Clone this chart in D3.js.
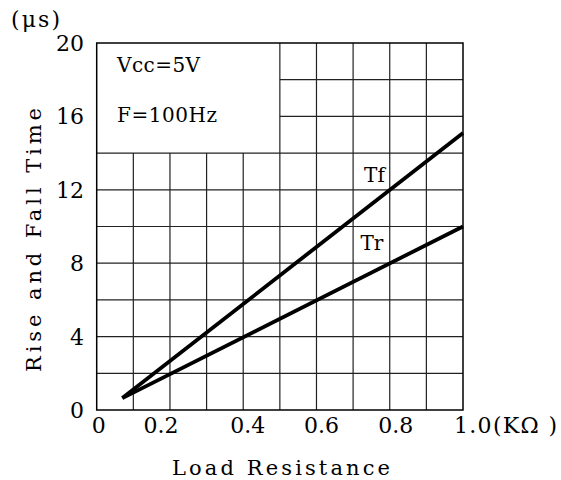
<!DOCTYPE html>
<html><head><meta charset="utf-8">
<script src="https://cdn.jsdelivr.net/npm/d3@7"></script>
<style>body{margin:0;background:#fff}svg{display:block}</style>
</head><body>
<svg id="c" width="561" height="480"></svg>
<script>
// ---- data ----
const xTicks = [0, 0.2, 0.4, 0.6, 0.8, 1.0];
const xTickLabels = ["0", "0.2", "0.4", "0.6", "0.8", "1.0(KΩ )"];
const yTicks = [0, 4, 8, 12, 16, 20];
const yTickLabels = ["0", "4", "8", "12", "16", "20"];
const tfSeries = [{x: 0.07, y: 0.65}, {x: 1.0, y: 15.1}];
const trSeries = [{x: 0.07, y: 0.65}, {x: 1.0, y: 10.0}];
const seriesNames = ["Tf", "Tr"];
const noteLines = ["Vcc=5V", "F=100Hz"];
const xTitle = "Load Resistance";
const yTitle = "Rise and Fall Time";
const yUnit = "(μs)";

// ---- layout ----
const W = 561, H = 480;
const x = d3.scaleLinear().domain([0, 1]).range([96.7, 463]);
const y = d3.scaleLinear().domain([0, 20]).range([410, 43]);
const FONT = "'DejaVu Serif', 'Liberation Serif', serif";
const svg = d3.select("#c");
svg.append("rect").attr("width", W).attr("height", H).attr("fill", "#fff");

const grid = svg.append("g").attr("stroke", "#222").attr("stroke-width", 1.2);
// vertical grid lines
d3.range(1, 10).map(i => i / 10).forEach(v => {
  grid.append("line")
    .attr("x1", x(v)).attr("x2", x(v))
    .attr("y1", y(0)).attr("y2", v < 0.5 ? y(14) : y(20));
});
// horizontal grid lines
d3.range(2, 20, 2).forEach(v => {
  grid.append("line")
    .attr("y1", y(v)).attr("y2", y(v))
    .attr("x1", v <= 14 ? x(0) : x(0.5)).attr("x2", x(1));
});
// frame
svg.append("rect")
  .attr("x", x(0)).attr("y", y(20))
  .attr("width", x(1) - x(0)).attr("height", y(0) - y(20))
  .attr("fill", "none").attr("stroke", "#000").attr("stroke-width", 1.5);

// series lines
const line = d3.line().x(d => x(d.x)).y(d => y(d.y));
[tfSeries, trSeries].forEach(s => {
  svg.append("path").datum(s).attr("d", line)
    .attr("fill", "none").attr("stroke", "#000").attr("stroke-width", 3.8)
    .attr("stroke-linecap", "butt");
});

// series labels
const seriesLabelPos = [{x: 0.73, y: 12.4}, {x: 0.72, y: 8.7}];
seriesNames.forEach((n, i) => {
  svg.append("text").attr("x", x(seriesLabelPos[i].x)).attr("y", y(seriesLabelPos[i].y))
    .attr("font-family", FONT).attr("font-size", 20).attr("fill", "#000")
    .text(n);
});

// notes
noteLines.forEach((t, i) => {
  svg.append("text").attr("x", 117).attr("y", 72 + i * 50)
    .attr("font-family", FONT).attr("font-size", 20).attr("fill", "#000")
    .attr("textLength", i === 0 ? 83 : 100).attr("lengthAdjust", "spacing")
    .text(t);
});

// y tick labels
yTicks.forEach((v, i) => {
  const lab = yTickLabels[i];
  svg.append("text").attr("x", 84).attr("y", y(v) + 8)
    .attr("text-anchor", "end")
    .attr("font-family", FONT).attr("font-size", 22).attr("fill", "#000")
    .text(lab);
});

// x tick labels
const xNudge = [2, -9, 4.5, 5, 6, 0];
xTicks.forEach((v, i) => {
  const lab = xTickLabels[i];
  const t = svg.append("text").attr("y", 433)
    .attr("font-family", FONT).attr("font-size", 22).attr("fill", "#000")
    .text(lab);
  if (i === xTicks.length - 1) {
    t.attr("x", x(v) - 9).attr("text-anchor", "start")
      .attr("textLength", 103).attr("lengthAdjust", "spacing");
  } else {
    t.attr("x", x(v) + xNudge[i]).attr("text-anchor", "middle");
  }
});

// titles
svg.append("text").attr("x", 172).attr("y", 475)
  .attr("font-family", FONT).attr("font-size", 21).attr("fill", "#000")
  .attr("textLength", 218).attr("lengthAdjust", "spacing")
  .text(xTitle);
svg.append("text").attr("transform", "translate(41,372) rotate(-90)")
  .attr("font-family", FONT).attr("font-size", 21).attr("fill", "#000")
  .attr("textLength", 264).attr("lengthAdjust", "spacing")
  .text(yTitle);
svg.append("text").attr("x", 11).attr("y", 27)
  .attr("font-family", FONT).attr("font-size", 22).attr("fill", "#000")
  .attr("textLength", 49).attr("lengthAdjust", "spacing")
  .text(yUnit);
</script>
</body></html>
